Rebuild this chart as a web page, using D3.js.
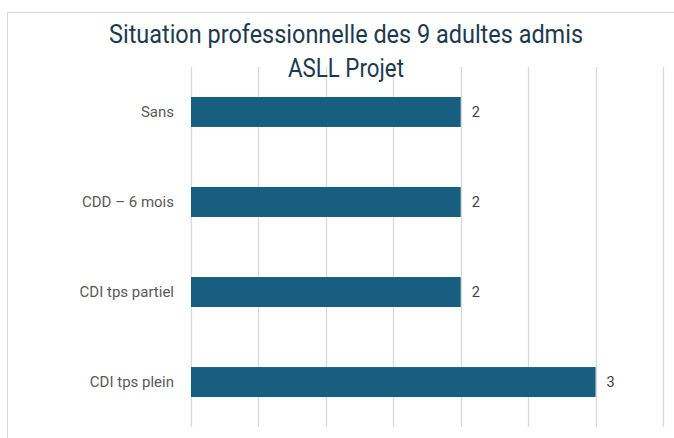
<!DOCTYPE html>
<html>
<head>
<meta charset="utf-8">
<title>Situation professionnelle</title>
<script src="https://cdn.jsdelivr.net/npm/d3@7"></script>
<style>
  body { margin: 0; background: #fff; }
  text { font-family: Roboto, "Noto Sans", sans-serif; }
</style>
</head>
<body>
<div id="chart"></div>
<script>
// data
var categories = ["Sans", "CDD – 6 mois", "CDI tps partiel", "CDI tps plein"];
var values = [2, 2, 2, 3];
var titleLines = ["Situation professionnelle des 9 adultes admis", "ASLL Projet"];
var titleWidths = [474, 116]; // narrow title font in the original, squeeze to fit

var W = 674, H = 438;
var svg = d3.select("#chart").append("svg")
  .attr("width", W).attr("height", H);

// chart frame (runs off right/bottom edges)
svg.append("rect")
  .attr("x", 7.5).attr("y", 12.5)
  .attr("width", 720).attr("height", 500)
  .attr("fill", "#fff").attr("stroke", "#d9d9d9");

var x = d3.scaleLinear().domain([0, 3.5]).range([191, 663]);
var y = d3.scaleBand().domain(categories).range([67, 427]).paddingInner(0.667).paddingOuter(0.333);

// gridlines
svg.append("g").selectAll("line")
  .data(d3.range(0, 3.51, 0.5))
  .join("line")
  .attr("x1", function(d){ return Math.round(x(d)) + 0.5; })
  .attr("x2", function(d){ return Math.round(x(d)) + 0.5; })
  .attr("y1", 67).attr("y2", 427)
  .attr("stroke", "#d9d9d9").attr("stroke-width", 1.3);

// bars
svg.append("g").selectAll("rect")
  .data(values)
  .join("rect")
  .attr("x", x(0))
  .attr("y", function(d, i){ return y(categories[i]); })
  .attr("width", function(d){ return x(d) - x(0); })
  .attr("height", y.bandwidth())
  .attr("fill", "#175e80");

// value labels
svg.append("g").selectAll("text")
  .data(values)
  .join("text")
  .attr("x", function(d){ return x(d) + 11; })
  .attr("y", function(d, i){ return y(categories[i]) + y.bandwidth() / 2; })
  .attr("dy", "0.35em")
  .attr("font-size", 14.5)
  .attr("fill", "#404040")
  .text(function(d){ return d; });

// category axis labels
svg.append("g").selectAll("text")
  .data(categories)
  .join("text")
  .attr("x", 174)
  .attr("y", function(d){ return y(d) + y.bandwidth() / 2; })
  .attr("dy", "0.35em")
  .attr("text-anchor", "end")
  .attr("font-size", 15)
  .attr("fill", "#595959")
  .text(function(d){ return d; });

// title
svg.append("g").selectAll("text")
  .data(titleLines)
  .join("text")
  .attr("x", function(d, i){ return 346 - titleWidths[i] / 2; })
  .attr("y", function(d, i){ return 43 + i * 34; })
  .attr("font-size", 25)
  .attr("fill", "#1c3a4f")
  .attr("textLength", function(d, i){ return titleWidths[i]; })
  .attr("lengthAdjust", "spacingAndGlyphs")
  .text(function(d){ return d; });
</script>
</body>
</html>
